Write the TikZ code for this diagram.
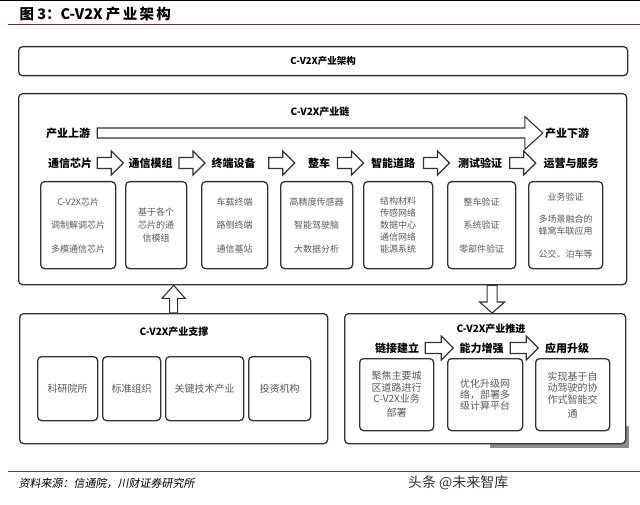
\documentclass[tikz,border=0pt]{standalone}
\usepackage{fontspec}
\setmainfont{Noto Sans CJK SC}
\newfontfamily\slantcjk[FakeSlant=0.18]{Noto Sans CJK SC}
\usetikzlibrary{calc,positioning}

\definecolor{boxline}{HTML}{333333}
\definecolor{boxtext}{HTML}{5A5A5A}
\definecolor{titlered}{HTML}{7B2323}
\definecolor{shadowgray}{HTML}{8C8C8C}

% hollow block arrow: from, to, half shaft, half head, head length
\newcommand{\blockarrow}[5]{%
  \coordinate (hb) at ($(#2)!#5!(#1)$);
  \draw[blockline] ($(#1)!#3!90:(#2)$) -- ($(hb)!#3!90:(#2)$) -- ($(hb)!#4!90:(#2)$)
    -- (#2) -- ($(hb)!#4!-90:(#2)$) -- ($(hb)!#3!-90:(#2)$) -- ($(#1)!#3!-90:(#2)$) -- cycle;}
% short arrow centred between two labels
\newcommand{\steparrow}[3]{%
  \coordinate (sm) at ($(#1.east)!.5!(#2.west)$);
  \coordinate (sa) at ($(sm)+(-#3,0)$);
  \coordinate (sz) at ($(sm)+(#3,0)$);
  \blockarrow{sa}{sz}{5.5pt}{12pt}{12pt}}

\begin{document}
\begin{tikzpicture}[x=1pt,y=-1pt,
  frame/.style={draw=boxline,line width=1.3pt,rounded corners=4pt,fill=white,anchor=north west,inner sep=0pt},
  cell/.style={frame,align=center,text=boxtext,font=\fontsize{9}{23.5}\selectfont},
  head/.style={font=\bfseries\fontsize{10}{12}\selectfont},
  stage/.style={font=\bfseries\fontsize{11}{13}\selectfont,inner xsep=2pt,inner ysep=1pt},
  blockline/.style={draw=boxline,line width=1.1pt,fill=white,line join=miter}]

\useasboundingbox (0,0) rectangle (640,505);
\fill[white] (0,0) rectangle (640,505);

% header
\draw[black,line width=1.5pt] (0,0.75) -- (640,0.75);
\node[anchor=west,font=\bfseries\fontsize{14.5}{18}\selectfont] (fig) at (16,14) {图 3：C-V2X {\addfontfeature{LetterSpace=16}产业架构}};
\draw[titlered,line width=1pt] (8,25) -- (640,25);

\node[frame,minimum width=609pt,minimum height=29pt,font=\bfseries\fontsize{9.5}{12}\selectfont] (top) at (18,46) {C-V2X产业架构};

% industry chain
\node[frame,minimum width=608pt,minimum height=191pt] (chain) at (18,93) {};
\node[head] (chaintitle) at (320,112) {C-V2X产业链};

\node[stage,inner xsep=7pt] (up) at (68,133) {产业上游};
\node[stage] (down) at (567,133) {产业下游};
\blockarrow{up.east}{down.west}{5pt}{16.5pt}{18pt}

\node[stage] (chip) at (70,163) {通信芯片};
\node[stage] (module) at (150.5,163) {通信模组};
\node[stage] (terminal) at (233.5,163) {终端设备};
\node[stage] (vehicle) at (319,163) {整车};
\node[stage] (road) at (393,163) {智能道路};
\node[stage] (test) at (480,163) {测试验证};
\node[stage] (service) at (571,163) {运营与服务};
\foreach \a/\b in {chip/module,module/terminal,terminal/vehicle,vehicle/road,road/test,test/service}
  \steparrow{\a}{\b}{13};

\node[cell,minimum width=75pt,minimum height=87pt] (chipbox) at (40,181) {C-V2X芯片\\调制解调芯片\\多模通信芯片};
\node[cell,minimum width=61pt,minimum height=87pt,font=\fontsize{9}{13}\selectfont] (modulebox) at (125,181) {基于各个\\芯片的通\\信模组};
\node[cell,minimum width=66pt,minimum height=87pt] (terminalbox) at (201,181) {车载终端\\路侧终端\\通信基站};
\node[cell,minimum width=72pt,minimum height=87pt] (vehiclebox) at (280,181) {高精度传感器\\智能驾驶脑\\大数据分析};
\node[cell,minimum width=69pt,minimum height=87pt,font=\fontsize{9}{11.8}\selectfont] (roadbox) at (363,181) {结构材料\\传感网络\\数据中心\\通信网络\\能源系统};
\node[cell,minimum width=68pt,minimum height=87pt] (testbox) at (447,181) {整车验证\\系统验证\\零部件验证};
\node[cell,minimum width=74pt,minimum height=87pt,font=\fontsize{9}{12}\selectfont] (servicebox) at (528,181) {业务验证\\[10pt]多场景融合的\\蜂窝车联应用\\[11pt]公交、泊车等};

% support
\node[frame,minimum width=308pt,minimum height=130pt] (support) at (19,313) {};
\node[head] (supporttitle) at (174,332) {C-V2X产业支撑};
\node[cell,minimum width=60pt,minimum height=64pt,font=\fontsize{10}{12}\selectfont] (research) at (37,356) {科研院所};
\node[cell,minimum width=58pt,minimum height=64pt,font=\fontsize{10}{12}\selectfont] (standard) at (102,356) {标准组织};
\node[cell,minimum width=78pt,minimum height=64pt,font=\fontsize{10}{12}\selectfont] (keytech) at (165,356) {关键技术产业};
\node[cell,minimum width=62pt,minimum height=64pt,font=\fontsize{10}{12}\selectfont] (invest) at (248,356) {投资机构};

\coordinate (supportin) at (support.north -| support.north);
\coordinate (chainin) at (support.north |- chain.south);
\blockarrow{supportin}{chainin}{4pt}{11.5pt}{13pt}

% promotion
\fill[shadowgray] (490,426) rectangle (629,448);
\node[frame,minimum width=281pt,minimum height=130pt] (push) at (344,313) {};
\node[head] (pushtitle) at (491,329) {C-V2X产业推进};

\coordinate (pushin) at ($(push.north)+(7,0)$);
\coordinate (chainout) at (pushin |- chain.south);
\blockarrow{chainout}{pushin}{5pt}{12.5pt}{11pt}

\node[stage] (link) at (397,348) {链接建立};
\node[stage] (boost) at (481.5,348) {能力增强};
\node[stage] (apply) at (567,348) {应用升级};
\foreach \a/\b in {link/boost,boost/apply}
  \steparrow{\a}{\b}{14};

\node[cell,minimum width=74pt,minimum height=72pt,font=\fontsize{10}{11.5}\selectfont] (linkbox) at (359,358) {聚焦主要城\\区道路进行\\C-V2X业务\\[2.5pt]部署};
\node[cell,minimum width=75pt,minimum height=72pt,font=\fontsize{10}{11}\selectfont] (boostbox) at (447,358) {优化升级网\\络，部署多\\级计算平台};
\node[cell,minimum width=74pt,minimum height=72pt,font=\fontsize{10}{11.5}\selectfont] (applybox) at (535,358) {实现基于自\\动驾驶的协\\作式智能交\\[2.5pt]通};

% footer
\draw[black!70,line width=0.8pt] (8,471) -- (640,471);
\node[anchor=west,font=\slantcjk\fontsize{11}{13}\selectfont] (source) at (15,483) {资料来源：信通院，川财证券研究所};
\node[anchor=east,font=\fontsize{14}{16}\selectfont,text=black!80] (mark) at (512,483) {头条 @未来智库};

\end{tikzpicture}
\end{document}
